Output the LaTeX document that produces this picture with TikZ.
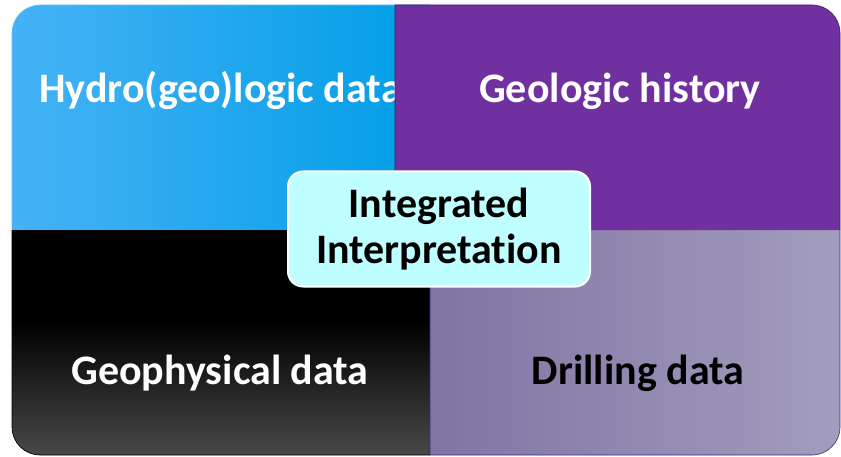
\documentclass[tikz,border=0pt]{standalone}
\usepackage{fontspec}
\setmainfont[Ligatures=NoCommon]{Carlito}
\definecolor{skyA}{RGB}{70,178,246}
\definecolor{skyB}{RGB}{0,158,230}
\definecolor{skyEdge}{RGB}{110,196,245}
\definecolor{plum}{RGB}{112,48,160}
\definecolor{plumEdge}{RGB}{60,30,100}
\definecolor{lavA}{RGB}{128,116,164}
\definecolor{lavB}{RGB}{163,157,189}
\definecolor{lavEdge}{RGB}{60,40,130}
\definecolor{coalBot}{RGB}{72,72,72}
\definecolor{cyanfill}{RGB}{192,255,255}
\begin{document}
\begin{tikzpicture}[x=1pt,y=1pt,
  quadlabel/.style={font=\fontsize{42}{46}\selectfont\bfseries, anchor=base, inner sep=0pt},
  edge/.style={line width=0.6pt},
  centerbox/.style={draw=white, line width=2pt, fill=cyanfill, rounded corners=15pt,
    minimum width=302pt, minimum height=115pt, align=center, inner sep=0pt,
    font=\fontsize{42}{46}\selectfont\bfseries, text=black}]
\useasboundingbox (0,0) rectangle (841,456);
\def\rr{28}

% upper left: hydro(geo)logic block
\path[left color=skyA, right color=skyB]
  (12,226) -- (12,451-\rr) arc[start angle=180, end angle=90, radius=\rr] -- (430,451) -- (430,226) -- cycle;
\draw[edge, skyEdge] (12,226) -- (12,451-\rr) arc[start angle=180, end angle=90, radius=\rr] -- (430,451);
\node[quadlabel, text=white] (hydro) at (220.5,353) {Hydro(geo)logic data};

% lower left: geophysics block, black fading to grey near the bottom
\begin{scope}
  \clip (12,226) -- (12,1+\rr) arc[start angle=180, end angle=270, radius=\rr] -- (430,1) -- (430,226) -- cycle;
  \fill[black] (12,1) rectangle (430,226);
  \path[top color=black, bottom color=coalBot] (12,1) rectangle (430,135);
\end{scope}
\draw[edge, black] (12,226) -- (12,1+\rr) arc[start angle=180, end angle=270, radius=\rr] -- (430,1);
\node[quadlabel, text=white] (geophys) at (220,72) {Geophysical data};

% lower right: drilling block
\path[left color=lavA, right color=lavB]
  (430,226) -- (840,226) -- (840,1+\rr) arc[start angle=0, end angle=-90, radius=\rr] -- (430,1) -- cycle;
\draw[edge, lavEdge] (840,226) -- (840,1+\rr) arc[start angle=0, end angle=-90, radius=\rr] -- (430,1) -- (430,226);
\node[quadlabel, text=black] (drill) at (638,72) {Drilling data};

% upper right: geologic history block
\fill[plum]
  (395,226) -- (395,451) -- (840-\rr,451) arc[start angle=90, end angle=0, radius=\rr] -- (840,226) -- cycle;
\draw[edge, plumEdge]
  (395,226) -- (395,451) -- (840-\rr,451) arc[start angle=90, end angle=0, radius=\rr] -- (840,226);
\node[quadlabel, text=white] (history) at (620,353) {Geologic history};

% central label
\node[centerbox] (core) at (439,227) {Integrated\\Interpretation};
\end{tikzpicture}
\end{document}
